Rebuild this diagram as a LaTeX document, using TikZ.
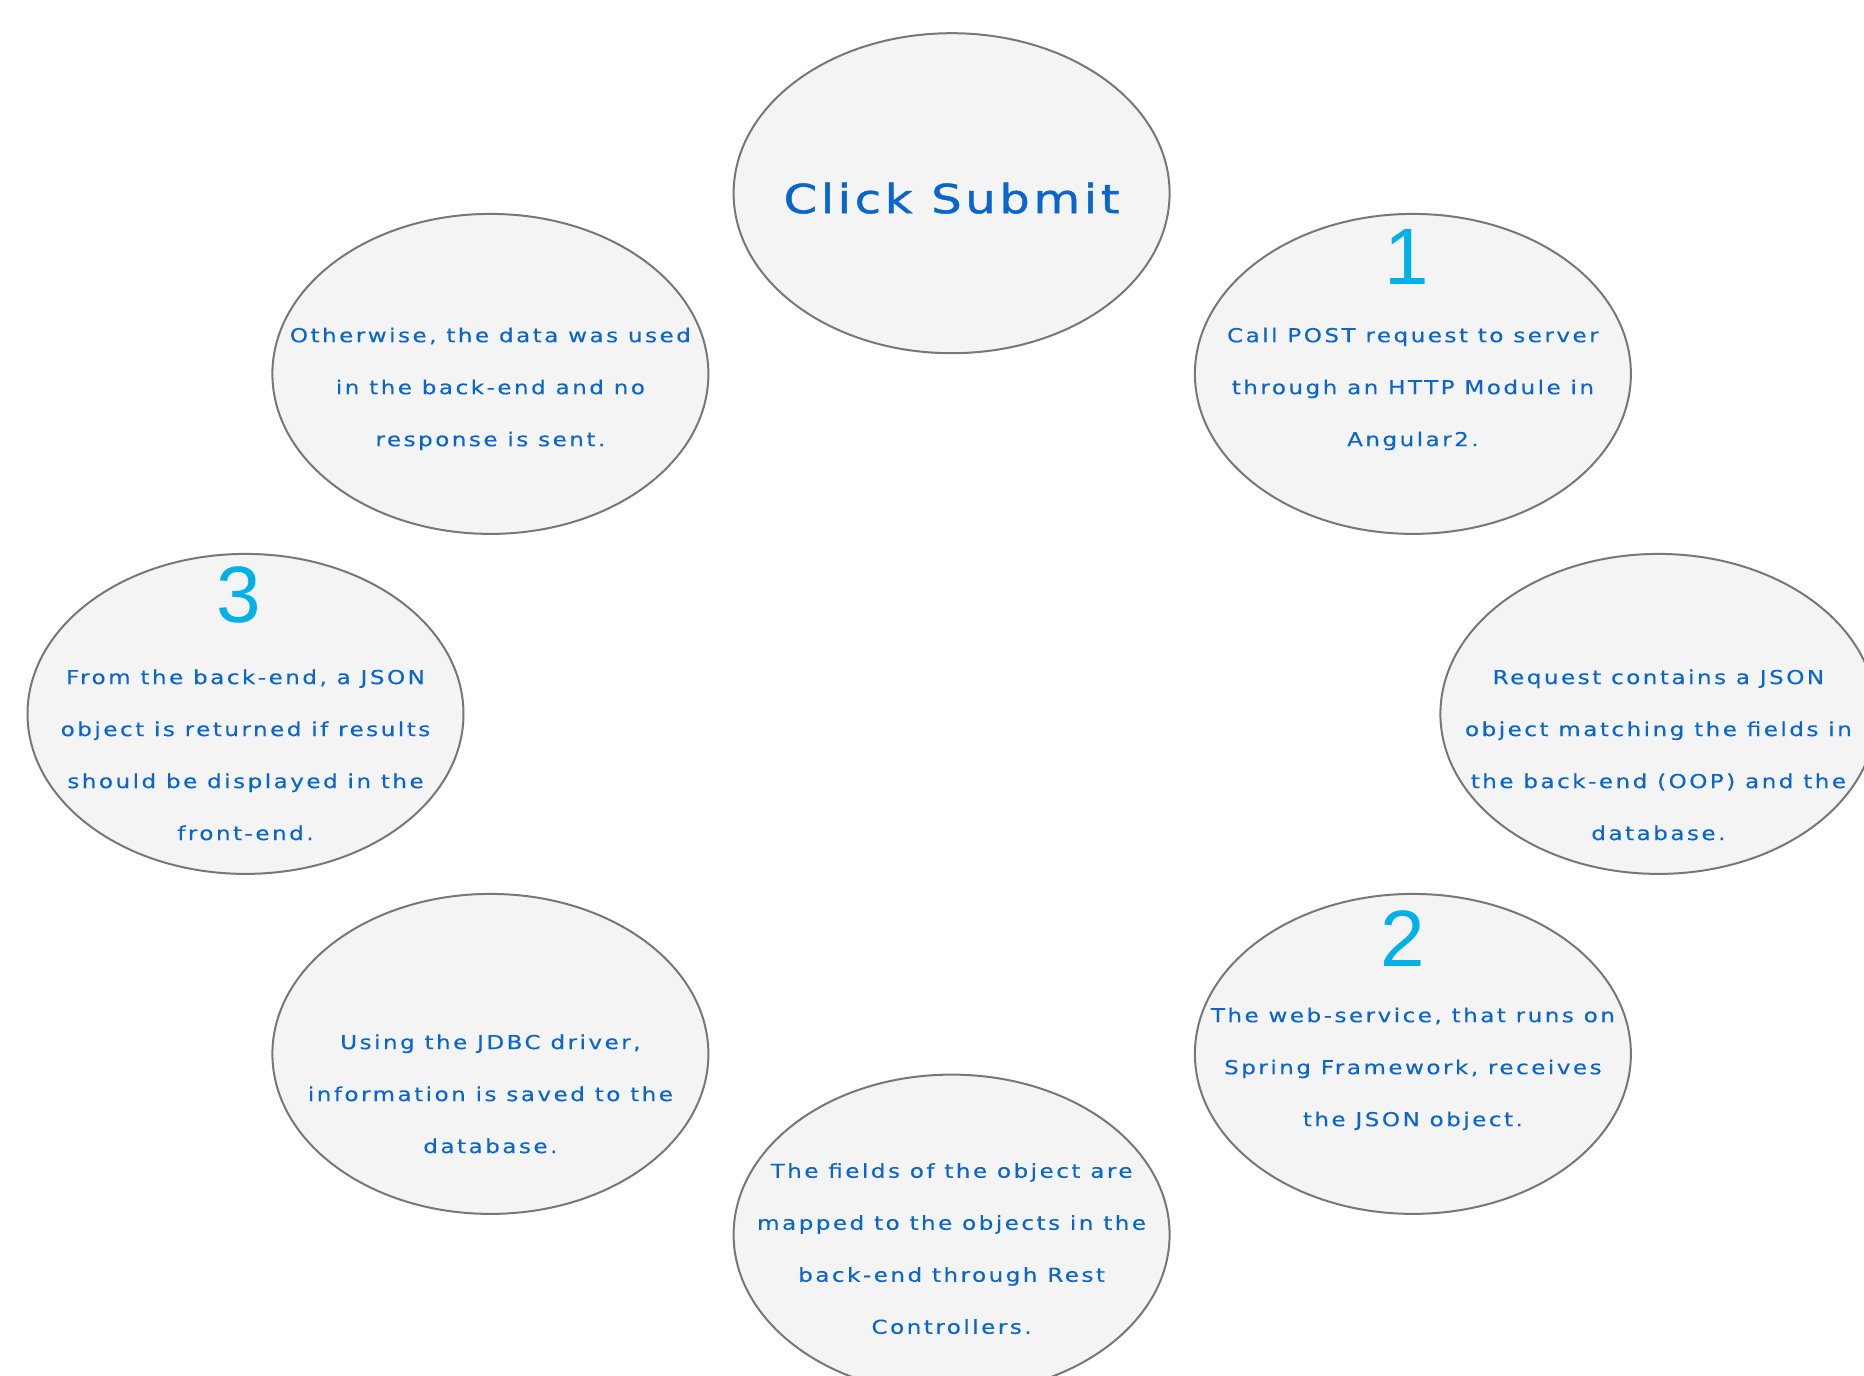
\documentclass[tikz,border=0pt]{standalone}
\usepackage{fontspec}
\setmainfont{DejaVu Sans}
\newfontfamily\stepfont[FakeStretch=1.2,LetterSpace=13,FakeBold=0.3]{DejaVu Sans}
\newfontfamily\titlefont[FakeStretch=1.2,LetterSpace=9,FakeBold=1.2]{DejaVu Sans}
\newfontfamily\numfont{Liberation Sans}
\usetikzlibrary{shapes.geometric}
\definecolor{webblue}{HTML}{0A66CC}
\definecolor{webcyan}{HTML}{00B0E8}
\definecolor{webrim}{HTML}{777777}
\definecolor{webfill}{HTML}{F4F4F4}
\tikzset{
  bubble/.style={ellipse, draw=webrim, fill=webfill, line width=1pt, minimum width=218pt, minimum height=160pt, inner sep=0pt},
  txt/.style={text=webblue, align=center, inner sep=0pt, font=\stepfont\fontsize{9.6}{26}\selectfont},
  num/.style={text=webcyan, inner sep=0pt, font=\numfont\fontsize{40}{40}\selectfont},
}

\begin{document}
\begin{tikzpicture}[x=0.5pt, y=-0.5pt]
  \useasboundingbox (0,0) rectangle (1864,1376);
  \clip (0,0) rectangle (1864,1376);
  % ring of steps
  \node[bubble] (submit) at (951.6,193.2) {};
  \node[bubble] (post) at (1412.9,373.9) {};
  \node[bubble] (request) at (1658.4,713.9) {};
  \node[bubble] (service) at (1412.9,1053.9) {};
  \node[bubble] (mapping) at (951.6,1234.6) {};
  \node[bubble] (jdbc) at (490.4,1053.9) {};
  \node[bubble] (result) at (245.5,713.9) {};
  \node[bubble] (reply) at (490.4,373.9) {};
  % step numbers
  \node[num] (n1) at ([xshift=-3pt, yshift=58.5pt]post.center) {1};
  \node[num] (n2) at ([xshift=-5pt, yshift=57.5pt]service.center) {2};
  \node[num] (n3) at ([xshift=-3.5pt, yshift=59.5pt]result.center) {3};
  % texts
  \node[text=webblue, inner sep=0pt, font=\titlefont\fontsize{20}{24}\selectfont] (submit-txt) at ([yshift=-2.5pt]submit.center) {Click Submit};
  \node[txt] (post-txt) at ([yshift=-7.5pt]post.center) {Call POST request to server\\through an HTTP Module in\\Angular2.};
  \node[txt] (request-txt) at ([yshift=-20.5pt]request.center) {Request contains a JSON\\object matching the fields in\\the back-end (OOP) and the\\database.};
  \node[txt] (service-txt) at ([yshift=-7.5pt]service.center) {The web-service, that runs on\\Spring Framework, receives\\the JSON object.};
  \node[txt] (mapping-txt) at ([yshift=-7pt]mapping.center) {The fields of the object are\\mapped to the objects in the\\back-end through Rest\\Controllers.};
  \node[txt] (jdbc-txt) at ([yshift=-20pt]jdbc.center) {Using the JDBC driver,\\information is saved to the\\database.};
  \node[txt] (result-txt) at ([yshift=-20.5pt]result.center) {From the back-end, a JSON\\object is returned if results\\should be displayed in the\\front-end.};
  \node[txt] (reply-txt) at ([yshift=-7.5pt]reply.center) {Otherwise, the data was used\\in the back-end and no\\response is sent.};
\end{tikzpicture}
\end{document}
